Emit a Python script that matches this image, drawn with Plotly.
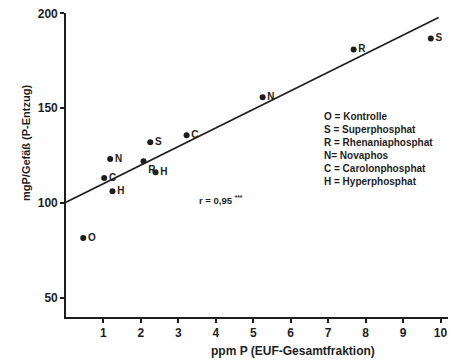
import plotly.graph_objects as go

# Data
x_vals = [0.46, 1.02, 1.24, 1.18, 2.07, 2.25, 2.39, 3.22, 5.25, 7.68, 9.74]
y_vals = [81.6, 113.2, 106.3, 123.2, 122.1, 132.1, 116.3, 135.8, 155.8, 181.0, 186.8]
point_labels = ["O", "C", "H", "N", "R", "S", "H", "C", "N", "R", "S"]
label_pos = ["middle right", "middle right", "middle right", "middle right", "bottom right",
             "middle right", "middle right", "middle right", "middle right", "middle right",
             "middle right"]

line_x = [0.0, 9.95]
line_y = [100.5, 197.8]

x_ticks = [1, 2, 3, 4, 5, 6, 7, 8, 9, 10]
y_ticks = [50, 100, 150, 200]

legend_lines = ["O = Kontrolle", "S = Superphosphat", "R = Rhenaniaphosphat",
                "N= Novaphos", "C = Carolonphosphat", "H = Hyperphosphat"]
r_text = "r = 0,95 <sup>***</sup>"
x_title = "ppm P (EUF-Gesamtfraktion)"
y_title = "mgP/Gefäß (P-Entzug)"

FONT = "Liberation Sans"
INK = "#1e1e1e"

fig = go.Figure()
fig.add_trace(go.Scatter(x=line_x, y=line_y, mode="lines",
                         line=dict(color=INK, width=1.6), hoverinfo="skip"))
fig.add_trace(go.Scatter(x=x_vals, y=y_vals, mode="markers+text",
                         marker=dict(color=INK, size=6),
                         text=point_labels, textposition=label_pos,
                         textfont=dict(family=FONT, size=10, color=INK, weight="bold")))

# page body has an 8px margin, so the figure is 8px smaller and the margins shifted
fig.update_layout(
    width=448, height=352,
    margin=dict(l=58, r=8, t=5, b=43, autoexpand=False),
    paper_bgcolor="white", plot_bgcolor="white",
    showlegend=False,
    font=dict(family=FONT, color=INK),
)
fig.update_xaxes(range=[0, 10.2], tickvals=x_ticks, ticks="outside", ticklen=4,
                 tickwidth=1.5, tickcolor=INK, showline=True, linecolor=INK, linewidth=1.6,
                 showgrid=False, zeroline=False, ticklabeloverflow="allow",
                 tickfont=dict(family=FONT, size=12, color=INK, weight="bold"))
fig.update_yaxes(range=[40, 200.2], tickvals=y_ticks, ticks="outside", ticklen=4,
                 tickwidth=1.5, tickcolor=INK, showline=True, linecolor=INK, linewidth=1.6,
                 showgrid=False, zeroline=False, ticklabeloverflow="allow",
                 tickfont=dict(family=FONT, size=12, color=INK, weight="bold"))

fig.add_annotation(xref="paper", yref="paper", x=0.67, y=0.683, xanchor="left", yanchor="top",
                   text="<br>".join(legend_lines), align="left", showarrow=False,
                   font=dict(family=FONT, size=10, color=INK, weight="bold"))
fig.add_annotation(xref="paper", yref="paper", x=0.405, y=0.385, xanchor="center", yanchor="middle",
                   text=r_text, showarrow=False,
                   font=dict(family=FONT, size=9.5, color=INK, weight="bold"))
fig.add_annotation(xref="paper", yref="paper", x=(293 - 66) / 382, y=-(351 - 317) / 304,
                   xanchor="center", yanchor="middle", text=x_title, showarrow=False,
                   font=dict(family=FONT, size=12, color=INK, weight="bold"))
fig.add_annotation(xref="paper", yref="paper", x=-(66 - 26) / 382, y=(317 - 143) / 304,
                   xanchor="center", yanchor="middle", text=y_title, textangle=-90,
                   showarrow=False, font=dict(family=FONT, size=11, color=INK, weight="bold"))

fig.write_html("out.html")
